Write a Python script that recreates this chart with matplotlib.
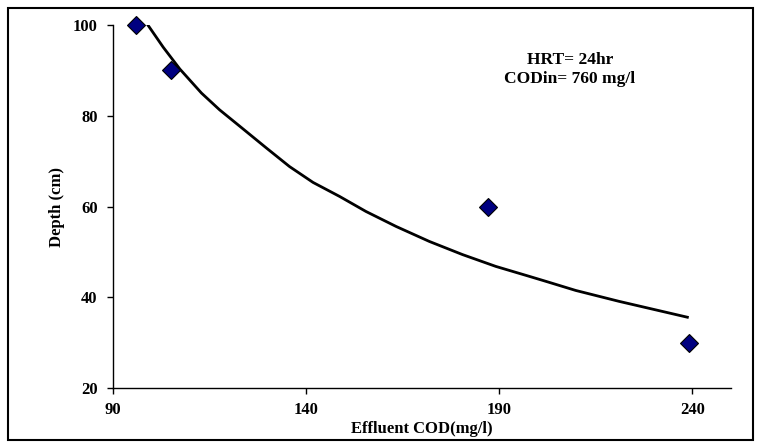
import matplotlib.pyplot as plt
from matplotlib.patches import Rectangle

# measured points
cod = [96, 105, 187, 239]
depth = [100, 90, 60, 30]

# trend curve
fit_cod = [98.7, 103.0, 107.3, 112.9, 117.6, 122.8, 129.7, 135.7, 141.8, 148.7, 155.5,
           163.3, 171.9, 180.5, 189.1, 197.8, 202.1, 209.8, 221.0, 229.6, 238.7]
fit_depth = [100.4, 95.1, 90.3, 85.0, 81.3, 77.7, 72.9, 68.8, 65.3, 62.2, 58.9,
             55.6, 52.3, 49.4, 46.8, 44.6, 43.5, 41.5, 39.1, 37.4, 35.6]

xticks = [90, 140, 190, 240]
yticks = [20, 40, 60, 80, 100]

plt.rcParams['font.family'] = ['Liberation Serif', 'DejaVu Serif']
plt.rcParams['font.weight'] = 'bold'

fig = plt.figure(figsize=(7.61, 4.48), dpi=100)
ax = fig.add_axes([0.1485, 0.1339, 0.8121, 0.8103])

ax.plot(fit_cod, fit_depth, color='black', lw=2.0, zorder=2, solid_joinstyle='round')
ax.plot(cod, depth, linestyle='none', marker='D', ms=9, mfc='#000080',
        mec='black', mew=0.8, clip_on=False, zorder=3)

ax.set_xlim(90, 250)
ax.set_ylim(20, 100)
ax.set_xticks(xticks)
ax.set_yticks(yticks)
ax.tick_params(direction='out', length=4, width=1, labelsize=12)
ax.tick_params(axis='x', pad=6)
ax.tick_params(axis='y', pad=7)
for lbl in ax.get_xticklabels() + ax.get_yticklabels():
    lbl.set_fontweight('bold')

for s in ['top', 'right']:
    ax.spines[s].set_visible(False)
for s in ['left', 'bottom']:
    ax.spines[s].set_linewidth(1.0)

ax.set_xlabel('Effluent COD(mg/l)', fontsize=12, fontweight='bold', labelpad=2)
ax.set_ylabel('Depth (cm)', fontsize=12, fontweight='bold', labelpad=6)

fig.text(0.749, 0.845, 'HRT= 24hr\nCODin= 760 mg/l', ha='center', va='center',
         fontsize=12.5, fontweight='bold', linespacing=1.25)

# outer frame
fig.patches.append(Rectangle((0.011, 0.018), 0.978, 0.964, transform=fig.transFigure,
                             fill=False, edgecolor='black', lw=1.5))

fig.savefig('out.png', dpi=100)
